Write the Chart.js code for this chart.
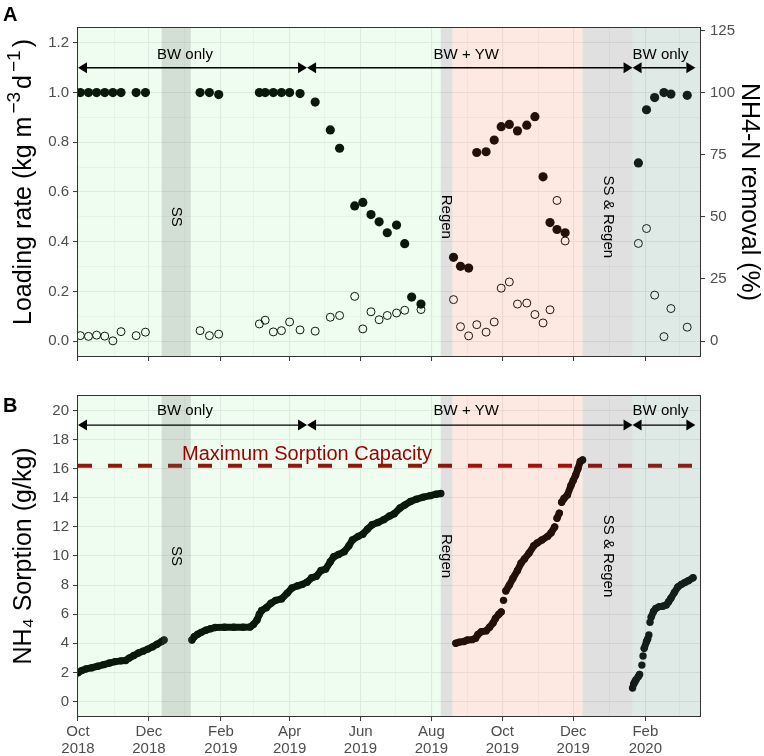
<!DOCTYPE html>
<html>
<head>
<meta charset="utf-8">
<script src="https://cdn.jsdelivr.net/npm/chart.js@4.4.1/dist/chart.umd.min.js"></script>
<style>
  body { margin: 0; background: #fff; width: 764px; height: 756px; position: relative; overflow: hidden;
         font-family: 'Liberation Sans', Arial, sans-serif; }
  .box { position: absolute; left: 0; width: 764px; }
  .tag { position: absolute; font-weight: bold; font-size: 20px; line-height: 23px; }
</style>
</head>
<body>
<div class="box" style="top:0;height:370px"><canvas id="chartA" width="764" height="370"></canvas></div>
<div class="box" style="top:370px;height:386px"><canvas id="chartB" width="764" height="386"></canvas></div>
<div class="tag" style="left:3px;top:3px">A</div>
<div class="tag" style="left:3px;top:394px">B</div>
<script>
// ---- data ----
const sampleDates = ['2018-10-03','2018-10-10','2018-10-17','2018-10-24','2018-10-31','2018-11-07','2018-11-20','2018-11-28',
  '2019-01-14','2019-01-22','2019-01-30',
  '2019-03-06','2019-03-11','2019-03-18','2019-03-25','2019-04-01','2019-04-10',
  '2019-04-23','2019-05-06','2019-05-14','2019-05-27','2019-06-03','2019-06-10','2019-06-17','2019-06-24','2019-07-02','2019-07-09','2019-07-15','2019-07-23',
  '2019-08-20','2019-08-26','2019-09-02','2019-09-09','2019-09-17','2019-09-24','2019-09-30','2019-10-07','2019-10-14','2019-10-22','2019-10-29','2019-11-05','2019-11-11','2019-11-17','2019-11-24',
  '2020-01-26','2020-02-02','2020-02-09','2020-02-17','2020-02-23','2020-03-08'];
// NH4-N removal (%), filled points, right axis
const removalPct = [100,100,100,100,100,100,100,100,
  100,100,99.2,
  100,100,100,100,100,99.6,
  96.2,85.0,77.6,54.4,55.8,50.9,48.0,43.6,46.7,39.2,17.7,14.9,
  33.7,30.1,29.4,75.9,76.2,80.9,86.3,87.2,84.6,86.9,90.3,66.1,47.7,44.9,43.6,
  71.7,93.1,98.0,100,99.4,98.9];
// loading rate (kg m-3 d-1), open points, left axis
const loadingRate = [0.022,0.019,0.024,0.020,0.001,0.038,0.022,0.036,
  0.042,0.022,0.028,
  0.069,0.084,0.037,0.042,0.077,0.045,
  0.040,0.096,0.103,0.180,0.049,0.118,0.086,0.103,0.113,0.124,null,0.127,
  0.167,0.058,0.021,0.066,0.036,0.077,0.213,0.238,0.149,0.153,0.107,0.073,0.126,0.566,0.403,
  0.393,0.453,0.185,0.018,0.131,0.056];

const sorptionDates = [
  '2018-10-01','2018-10-04','2018-10-08','2018-10-13','2018-10-18','2018-10-23','2018-10-28','2018-11-02','2018-11-07','2018-11-11',
  '2018-11-14','2018-11-18','2018-11-22','2018-11-26','2018-11-30','2018-12-04','2018-12-08','2018-12-12','2018-12-14',
  '2019-01-07','2019-01-09','2019-01-12','2019-01-15','2019-01-19','2019-01-23','2019-01-27','2019-02-04','2019-02-12','2019-02-20',
  '2019-02-26','2019-03-01','2019-03-04','2019-03-06','2019-03-08','2019-03-12','2019-03-16','2019-03-20','2019-03-25','2019-03-30',
  '2019-04-03','2019-04-08','2019-04-12','2019-04-16','2019-04-20','2019-04-24','2019-04-28','2019-05-02','2019-05-06','2019-05-09',
  '2019-05-13','2019-05-18','2019-05-22','2019-05-25','2019-05-30','2019-06-03','2019-06-07','2019-06-11','2019-06-16','2019-06-21',
  '2019-06-26','2019-06-30','2019-07-05','2019-07-09','2019-07-14','2019-07-19','2019-07-25','2019-07-31','2019-08-05','2019-08-09',
  '2019-08-22','2019-08-25','2019-08-29','2019-09-01','2019-09-05','2019-09-08','2019-09-10','2019-09-13','2019-09-17','2019-09-20',
  '2019-09-23','2019-09-25','2019-09-28','2019-09-30','2019-10-02','2019-10-04','2019-10-07','2019-10-10','2019-10-14','2019-10-17',
  '2019-10-20','2019-10-24','2019-10-28','2019-10-31','2019-11-04','2019-11-09','2019-11-12','2019-11-15','2019-11-17','2019-11-19',
  '2019-11-21','2019-11-23','2019-11-26','2019-11-29','2019-12-01','2019-12-03','2019-12-05','2019-12-07','2019-12-09',
  '2020-01-21','2020-01-22','2020-01-23','2020-01-24','2020-01-26','2020-01-27','2020-01-29','2020-01-30','2020-01-31','2020-02-02',
  '2020-02-03','2020-02-04','2020-02-05','2020-02-06','2020-02-08','2020-02-10','2020-02-13','2020-02-16','2020-02-19','2020-02-21',
  '2020-02-23','2020-02-26','2020-02-29','2020-03-03','2020-03-06','2020-03-09','2020-03-13'];
const sorptionValues = [
  1.97,2.12,2.24,2.32,2.42,2.53,2.64,2.74,2.79,2.82,
  2.98,3.16,3.33,3.46,3.60,3.75,3.93,4.12,4.22,
  4.23,4.45,4.62,4.75,4.90,5.00,5.08,5.10,5.10,5.10,
  5.12,5.30,5.60,6.00,6.25,6.45,6.75,6.95,7.05,7.45,
  7.80,7.95,8.05,8.20,8.50,8.60,9.00,9.10,9.60,9.95,
  10.1,10.3,10.7,11.1,11.35,11.5,11.85,12.15,12.3,12.5,
  12.75,12.9,13.3,13.5,13.75,13.9,14.05,14.15,14.25,14.3,
  4.00,4.08,4.12,4.22,4.25,4.35,4.60,4.80,4.85,5.10,
  5.40,5.70,6.00,6.15,6.95,7.60,8.00,8.45,9.00,9.50,
  9.80,10.2,10.7,10.9,11.1,11.35,11.6,12.0,12.6,12.95,
  13.7,13.95,14.2,14.85,15.2,15.55,16.0,16.5,16.6,
  0.92,1.20,1.35,1.50,1.72,1.85,2.50,3.12,3.65,4.12,
  4.30,4.57,5.45,5.80,6.18,6.40,6.52,6.55,6.63,6.85,
  7.10,7.50,7.88,8.05,8.18,8.30,8.50];
const maxCapacity = 16.2;

// axes
const xStart = '2018-10-01', xEnd = '2020-03-19';
const xTickDates = ['2018-10-01','2018-12-01','2019-02-01','2019-04-01','2019-06-01','2019-08-01','2019-10-01','2019-12-01','2020-02-01'];
const xTickLabels = [['Oct','2018'],['Dec','2018'],['Feb','2019'],['Apr','2019'],['Jun','2019'],['Aug','2019'],['Oct','2019'],['Dec','2019'],['Feb','2020']];
const xMinorDates = ['2018-11-01','2019-01-01','2019-03-01','2019-05-01','2019-07-01','2019-09-01','2019-11-01','2020-01-01','2020-03-01'];
const loadTicks = [0, 0.2, 0.4, 0.6, 0.8, 1.0, 1.2];
const removalTicks = [0, 25, 50, 75, 100, 125];
const sorptionTicks = [0, 2, 4, 6, 8, 10, 12, 14, 16, 18, 20];

// operating periods
const bandKinds  = ['bw','regen','yw','ssregen','bw2','ss'];
const bandStarts = ['2018-10-01','2019-08-09','2019-08-19','2019-12-09','2020-01-21','2018-12-12'];
const bandEnds   = ['2019-08-09','2019-08-19','2019-12-09','2020-01-21','2020-03-19','2019-01-06'];
const arrowSpans = [['2018-10-01','2019-04-16'],['2019-04-16','2020-01-21'],['2020-01-21','2020-03-15']];
const periodNames = ['BW only','BW + YW','BW only'];
const periodNameDates = ['2019-01-01','2019-08-31','2020-02-14'];
const eventNames = ['SS','Regen','SS & Regen'];
const eventDates = ['2018-12-24','2019-08-14','2019-12-31'];

// ---- helpers ----
const DAY0 = Date.parse(xStart);
const day = s => (Date.parse(s) - DAY0) / 864e5;
const FONT = "'Liberation Sans', Arial, sans-serif";
const BAND_FILL = {
  bw: 'rgba(85,235,105,0.10)', regen: 'rgba(100,100,100,0.2)', yw: 'rgba(242,108,55,0.15)',
  ssregen: 'rgba(100,100,100,0.2)', bw2: 'rgba(95,145,130,0.2)', ss: 'rgba(100,100,100,0.2)'
};

function withMinor(major) {
  const out = [];
  major.forEach((v, i) => {
    out.push({ value: v });
    if (i < major.length - 1) out.push({ value: (v + major[i + 1]) / 2, minor: true });
  });
  return out;
}
function xTicks(scale) {
  const t = xTickDates.map(d => ({ value: day(d) }))
    .concat(xMinorDates.map(d => ({ value: day(d), minor: true })));
  t.sort((a, b) => a.value - b.value);
  scale.ticks = t;
}
const grid = (onArea) => ({
  drawOnChartArea: onArea,
  color: '#EBEBEB',
  lineWidth: c => (c.tick && c.tick.minor) ? 0.55 : 1.1,
  tickColor: c => (c.tick && c.tick.minor) ? 'rgba(0,0,0,0)' : '#333333',
  tickWidth: 1,
  tickLength: 5
});
const tickFont = { family: FONT, size: 15 };
const titleFont = { family: FONT, size: 25, lineHeight: 1.2 };

const annotate = {
  id: 'annotate',
  afterDatasetsDraw(chart, args, o) {
    const { ctx, chartArea: a } = chart;
    const x = chart.scales.x, y = chart.scales.y;
    ctx.save();
    ctx.beginPath();
    ctx.rect(a.left, a.top, a.right - a.left, a.bottom - a.top);
    ctx.clip();
    bandKinds.forEach((k, i) => {
      const x1 = x.getPixelForValue(day(bandStarts[i]));
      const x2 = x.getPixelForValue(day(bandEnds[i]));
      ctx.fillStyle = BAND_FILL[k];
      ctx.fillRect(x1, a.top, x2 - x1, a.bottom - a.top);
    });
    ctx.restore();

    ctx.save();
    ctx.fillStyle = '#000';
    ctx.strokeStyle = '#000';
    ctx.font = '15px ' + FONT;
    ctx.textAlign = 'center';
    ctx.textBaseline = 'middle';
    periodNames.forEach((n, i) => {
      ctx.fillText(n, x.getPixelForValue(day(periodNameDates[i])), y.getPixelForValue(o.labelY));
    });
    const ay = y.getPixelForValue(o.arrowY);
    const L = 9, H = 5.5;
    ctx.lineWidth = 1.3;
    arrowSpans.forEach(([s, e]) => {
      const x1 = x.getPixelForValue(day(s)), x2 = x.getPixelForValue(day(e));
      ctx.beginPath(); ctx.moveTo(x1 + L, ay); ctx.lineTo(x2 - L, ay); ctx.stroke();
      ctx.beginPath(); ctx.moveTo(x1, ay); ctx.lineTo(x1 + L, ay - H); ctx.lineTo(x1 + L, ay + H); ctx.closePath(); ctx.fill();
      ctx.beginPath(); ctx.moveTo(x2, ay); ctx.lineTo(x2 - L, ay - H); ctx.lineTo(x2 - L, ay + H); ctx.closePath(); ctx.fill();
    });
    eventNames.forEach((n, i) => {
      ctx.save();
      ctx.translate(x.getPixelForValue(day(eventDates[i])), y.getPixelForValue(o.eventY));
      ctx.rotate(Math.PI / 2);
      ctx.fillText(n, 0, 0);
      ctx.restore();
    });
    if (o.capLabel) {
      ctx.fillStyle = '#990000';
      ctx.font = '20px ' + FONT;
      ctx.fillText(o.capLabel, x.getPixelForValue(day(o.capDate)), y.getPixelForValue(o.capY));
    }
    ctx.strokeStyle = '#333333';
    ctx.lineWidth = 1;
    const l = Math.round(a.left) - 0.5, t = Math.round(a.top) - 0.5;
    ctx.strokeRect(l, t, Math.round(a.right) + 0.5 - l, Math.round(a.bottom) + 0.5 - t);
    ctx.restore();
  }
};

// y title of panel A with real superscripts
const loadTitle = {
  id: 'loadTitle',
  afterDraw(chart) {
    const { ctx, chartArea: a } = chart;
    const parts = [['Loading rate (kg m', 0], ['\u22123', 1], ['d', 0], ['\u22121', 1], [')', 0]];
    const big = '25px ' + FONT, small = '19px ' + FONT, gap = 3;
    let total = 0;
    const widths = parts.map(([s, sup]) => { ctx.font = sup ? small : big; const w = ctx.measureText(s).width; total += w; return w; });
    total += gap * (parts.length - 1);
    ctx.save();
    ctx.translate(24, (a.top + a.bottom) / 2 - 10);
    ctx.rotate(-Math.PI / 2);
    ctx.fillStyle = '#000';
    ctx.textAlign = 'left';
    ctx.textBaseline = 'middle';
    let px = -total / 2;
    parts.forEach(([s, sup], i) => {
      ctx.font = sup ? small : big;
      ctx.fillText(s, px, sup ? -9 : 0);
      px += widths[i] + gap;
    });
    ctx.restore();
  }
};

const common = {
  responsive: false,
  animation: false,
  events: [],
  plugins: { legend: { display: false }, tooltip: { enabled: false } }
};

// ---- panel A ----
const removalPts = sampleDates.map((d, i) => ({ x: day(d), y: removalPct[i] }));
const loadPts = sampleDates.map((d, i) => ({ x: day(d), y: loadingRate[i] })).filter(p => p.y !== null);

new Chart(document.getElementById('chartA'), {
  type: 'scatter',
  data: {
    datasets: [
      { data: removalPts, yAxisID: 'y2', pointRadius: 4.6, backgroundColor: '#000', borderWidth: 0 },
      { data: loadPts, yAxisID: 'y', pointRadius: 4, backgroundColor: 'rgba(0,0,0,0)', borderColor: '#000', borderWidth: 1 }
    ]
  },
  options: {
    ...common,
    layout: { padding: { top: 28, left: 0, right: 0, bottom: 0 } },
    plugins: { ...common.plugins, annotate: { arrowY: 1.1, labelY: 1.15, eventY: 0.5 } },
    scales: {
      x: {
        type: 'linear', min: 0, max: day(xEnd),
        afterBuildTicks: xTicks,
        ticks: { display: false },
        grid: grid(true), border: { display: false },
        afterFit: s => { s.height = 12; }
      },
      y: {
        position: 'left', min: -0.06, max: 1.26,
        afterBuildTicks: s => { s.ticks = withMinor(loadTicks); },
        ticks: { font: tickFont, color: '#4D4D4D', padding: 4,
                 callback: (v, i, t) => t[i].minor ? '' : v.toFixed(1) },
        grid: grid(true), border: { display: false },
        afterFit: s => { s.width = 78; }
      },
      y2: {
        position: 'right', min: -6, max: 126,
        afterBuildTicks: s => { s.ticks = removalTicks.map(v => ({ value: v })); },
        ticks: { font: tickFont, color: '#4D4D4D', padding: 5, callback: v => String(v) },
        grid: grid(false), border: { display: false },
        title: { display: true, text: 'NH4-N removal (%)', font: titleFont, color: '#000', padding: { top: 0, bottom: 0 } },
        afterFit: s => { s.width = 64; }
      }
    }
  },
  plugins: [annotate, loadTitle]
});

// ---- panel B ----
const sorptionPts = sorptionDates.map((d, i) => ({ x: day(d), y: sorptionValues[i] }));
// no connecting stroke across data gaps or over steep jumps (where the dots stand apart)
const apart = c => {
  const dx = c.p1.parsed.x - c.p0.parsed.x;
  return dx > 10 || Math.abs(c.p1.parsed.y - c.p0.parsed.y) / Math.max(dx, 0.5) > 0.25;
};

new Chart(document.getElementById('chartB'), {
  type: 'scatter',
  data: {
    datasets: [
      { data: sorptionPts, showLine: true, pointRadius: 3.7, backgroundColor: '#000',
        borderColor: '#000', borderWidth: 7, pointBorderWidth: 0,
        borderCapStyle: 'round', borderJoinStyle: 'round',
        segment: { borderColor: c => apart(c) ? 'rgba(0,0,0,0)' : '#000' } },
      { data: [{ x: 0, y: maxCapacity }, { x: day(xEnd), y: maxCapacity }], showLine: true, pointRadius: 0,
        borderColor: '#990000', borderWidth: 4, borderDash: [14, 16] }
    ]
  },
  options: {
    ...common,
    layout: { padding: { top: 26, left: 0, right: 64, bottom: 0 } },
    plugins: { ...common.plugins, annotate: { arrowY: 19, labelY: 20, eventY: 10,
      capLabel: 'Maximum Sorption Capacity', capDate: '2019-04-16', capY: 17.0 } },
    scales: {
      x: {
        type: 'linear', min: 0, max: day(xEnd),
        afterBuildTicks: xTicks,
        ticks: { font: { family: FONT, size: 15, lineHeight: 1.1 }, color: '#4D4D4D', padding: 3,
                 maxRotation: 0, autoSkip: false,
                 callback: v => { const k = xTickDates.findIndex(d => day(d) === v); return k >= 0 ? xTickLabels[k] : ''; } },
        grid: grid(true), border: { display: false },
        afterFit: s => { s.height = 40; }
      },
      y: {
        position: 'left', min: -1, max: 21,
        afterBuildTicks: s => { s.ticks = withMinor(sorptionTicks); },
        ticks: { font: tickFont, color: '#4D4D4D', padding: 4,
                 callback: (v, i, t) => t[i].minor ? '' : String(v) },
        grid: grid(true), border: { display: false },
        title: { display: true, text: 'NH\u2084 Sorption (g/kg)', font: titleFont, color: '#000', padding: { top: 9, bottom: 0 } },
        afterFit: s => { s.width = 78; }
      }
    }
  },
  plugins: [annotate]
});
</script>
</body>
</html>
